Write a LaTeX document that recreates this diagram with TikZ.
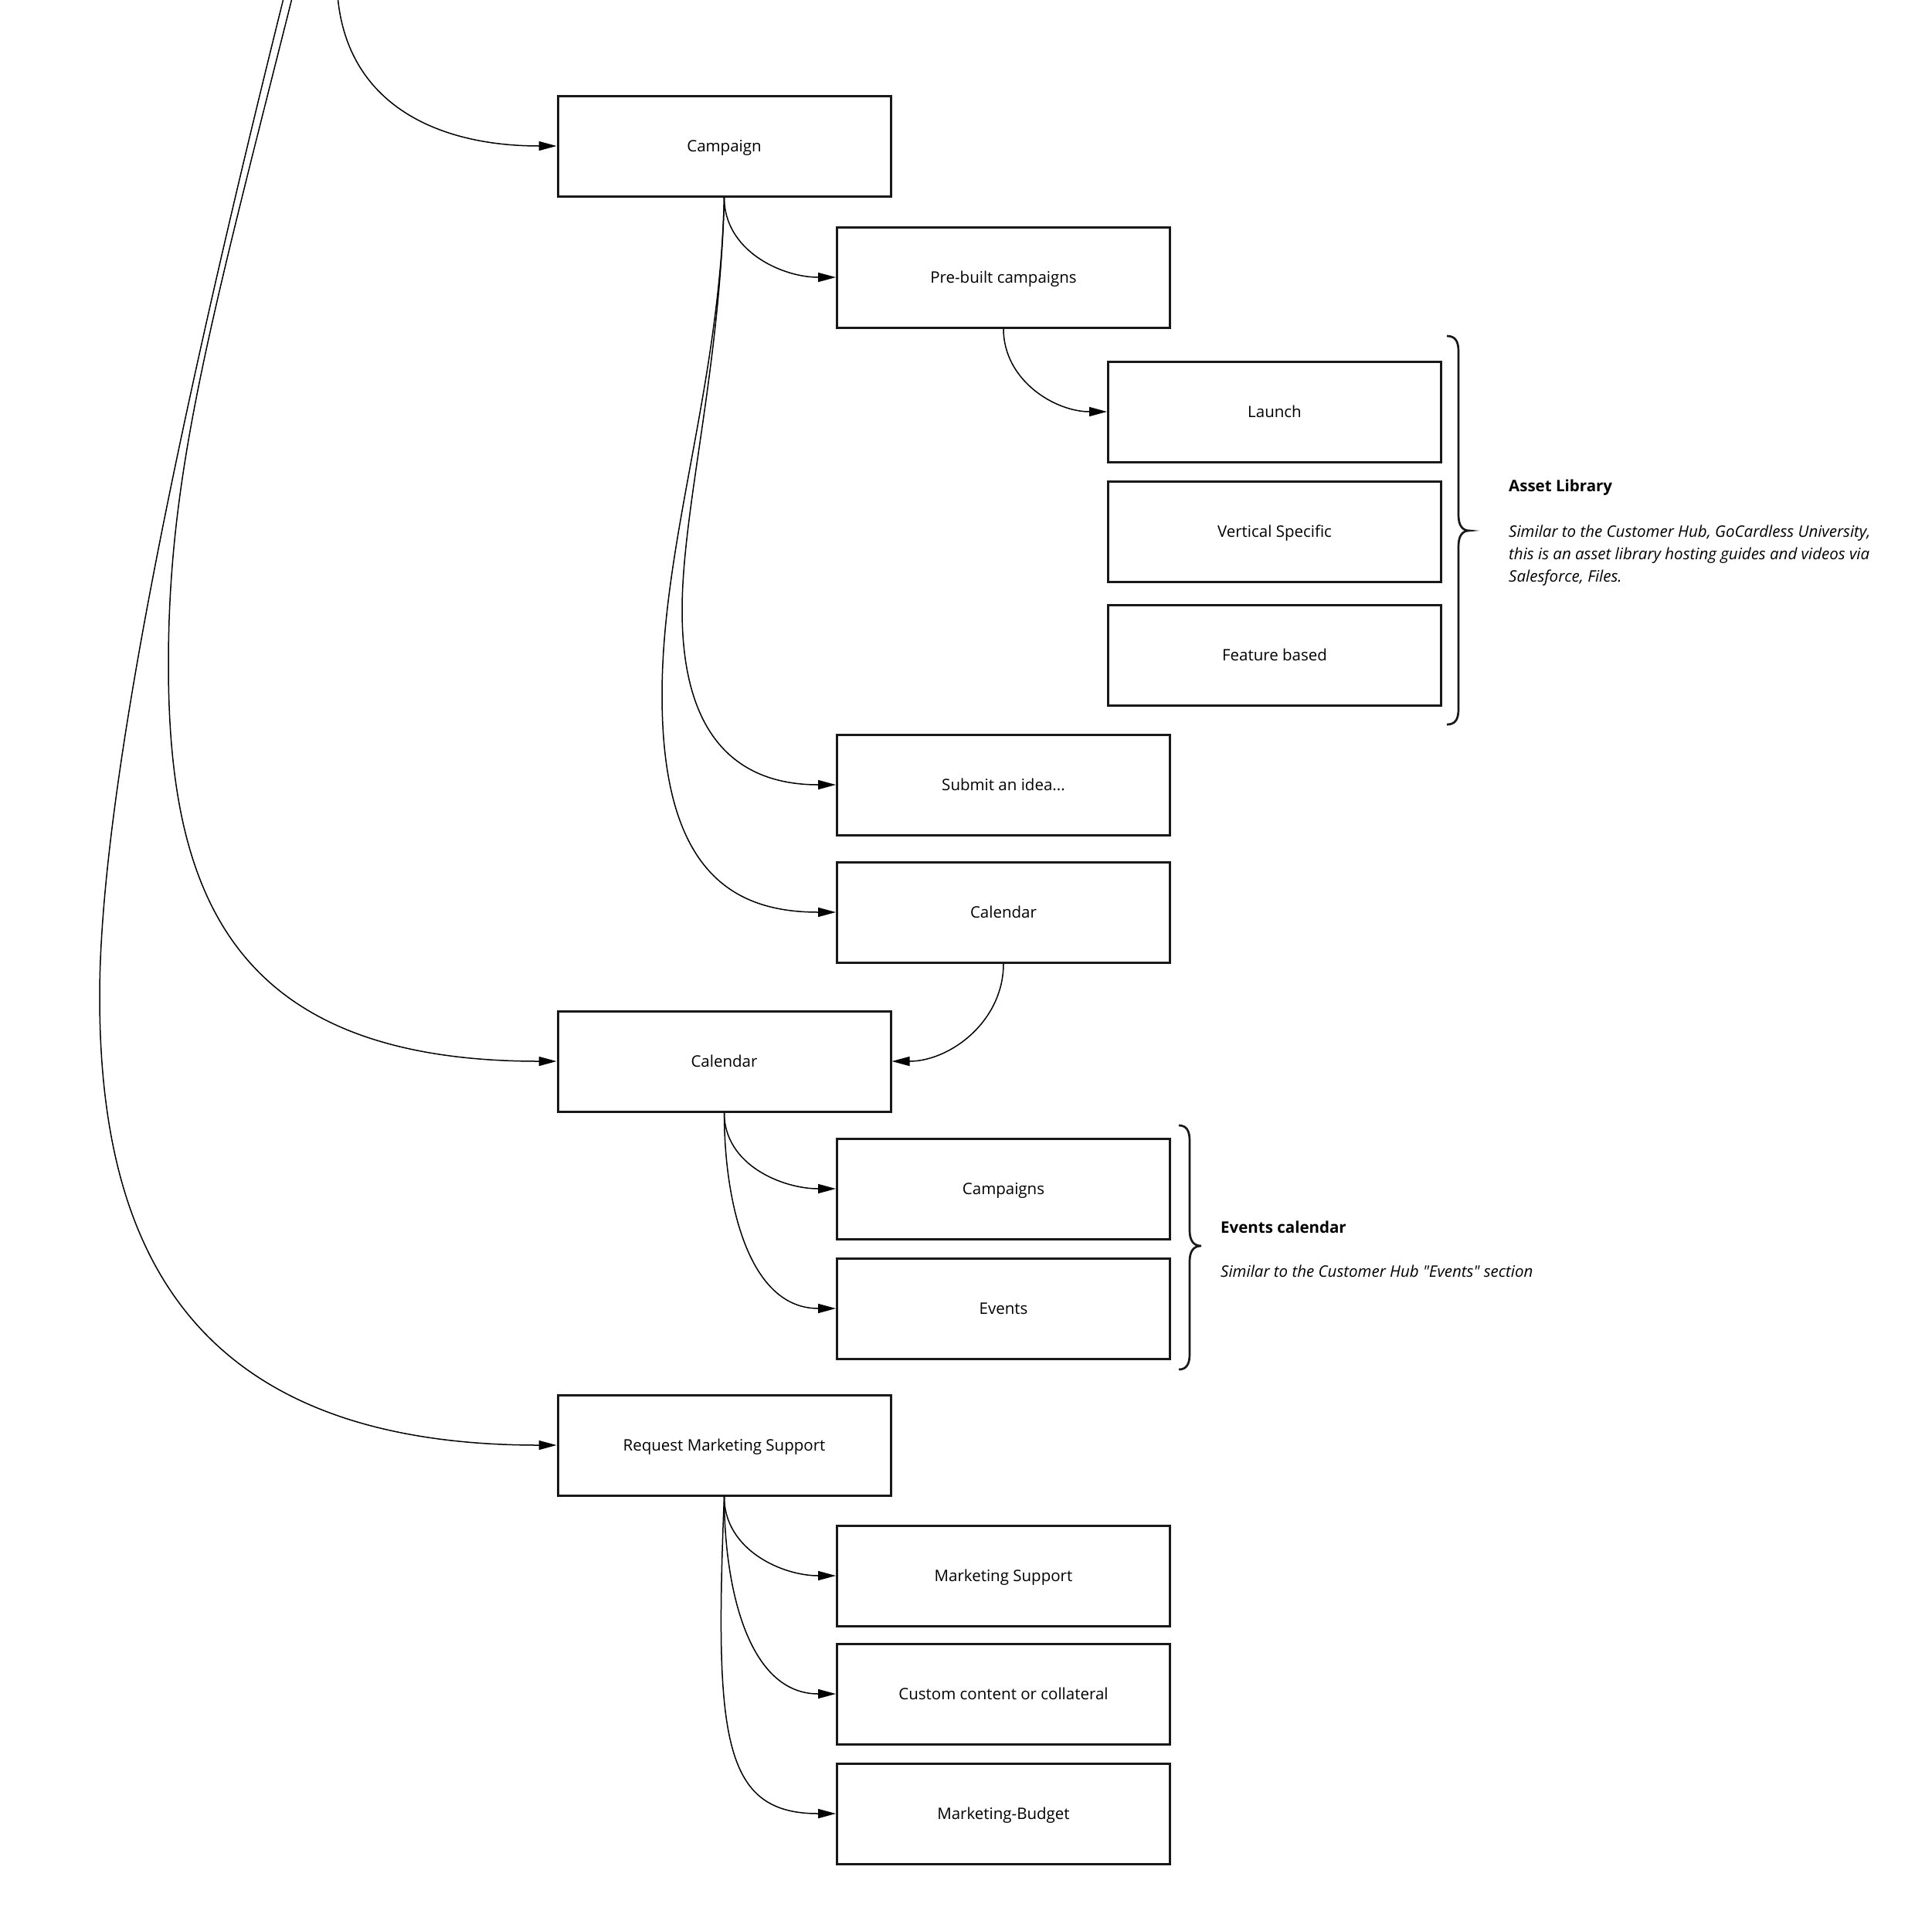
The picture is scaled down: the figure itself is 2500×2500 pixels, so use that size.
\documentclass[tikz,border=0pt]{standalone}
\usepackage{fontspec}
\setmainfont{Open Sans}[Ligatures=TeXOff]
\usetikzlibrary{arrows.meta}
\newcommand{\boxfont}{\fontsize{20.5}{25}\selectfont}
\tikzset{
  box/.style={draw=black!90, line width=3pt, minimum width=431pt, minimum height=130pt, inner sep=0pt, font=\boxfont, fill=white, text height=14.7pt, text depth=0pt},
  conn/.style={draw=black, line width=1.5pt, -{Triangle[length=23pt,width=12pt]}},
  brc/.style={draw=black!90, line width=2.7pt},
  note/.style={inner sep=0pt, anchor=west, align=left}
}
\begin{document}
\begin{tikzpicture}[x=1pt,y=-1pt]
\useasboundingbox (0,0) rectangle (2500,2500);
\fill[white] (0,0) rectangle (2500,2500);
\clip (0,0) rectangle (2500,2500);

% free ends coming from above the page
\coordinate (srcC) at (436,-30);
\coordinate (srcA) at (385,-30);
\coordinate (srcB) at (374,-30);

% boxes
\node[box] (camp) at (937.5,189) {Campaign};
\node[box] (pre)  at (1299,359) {Pre-built campaigns};
\node[box] (launch) at (1650,533) {Launch};
\node[box] (vert) at (1650,688) {Vertical Specific};
\node[box] (feat) at (1650,848) {Feature based};
\node[box] (sub)  at (1299,1016) {Submit an idea...};
\node[box] (cals) at (1299,1181) {Calendar};
\node[box] (calm) at (937.5,1374) {Calendar};
\node[box] (cmps) at (1299,1539) {Campaigns};
\node[box] (evt)  at (1299,1694) {Events};
\node[box] (rms)  at (937.5,1871) {Request Marketing Support};
\node[box] (ms)   at (1299,2040) {Marketing Support};
\node[box] (cc)   at (1299,2193) {Custom content or collateral};
\node[box] (mb)   at (1299,2348) {Marketing-Budget};

% connectors from above
\draw[conn] (srcC) .. controls (436,130) and (560,189) .. (camp.west);
\draw[conn] (srcA) .. controls (272,420) and (218,610) .. (218,860)
  .. controls (218,1160) and (302,1374) .. (calm.west);
\draw[conn] (srcB) .. controls (224,570) and (129,1040) .. (129,1290)
  .. controls (129,1610) and (242,1871) .. (rms.west);

% campaign children
\draw[conn] (camp.south) to[out=-90,in=180] (pre.west);
\draw[conn] (camp.south) .. controls (932,480) and (883,660) .. (883,790)
  .. controls (883,960) and (960,1016) .. (sub.west);
\draw[conn] (camp.south) .. controls (932,500) and (857,700) .. (857,900)
  .. controls (857,1130) and (950,1181) .. (cals.west);
\draw[conn] (pre.south) to[out=-90,in=180] (launch.west);
\draw[conn] (cals.south) to[out=-90,in=0] (calm.east);

% calendar children
\draw[conn] (calm.south) to[out=-90,in=180] (cmps.west);
\draw[conn] (calm.south) to[out=-90,in=180] (evt.west);

% request marketing support children
\draw[conn] (rms.south) to[out=-90,in=180] (ms.west);
\draw[conn] (rms.south) to[out=-90,in=180] (cc.west);
\draw[conn] (rms.south) .. controls (925,2250) and (935,2348) .. (mb.west);

% braces
\draw[brc] (1873,435) .. controls (1884,435) and (1888,442) .. (1888,455) -- (1888,667)
  .. controls (1888,680) and (1893,687) .. (1902,687)
  .. controls (1893,687) and (1888,694) .. (1888,707) -- (1888,918)
  .. controls (1888,931) and (1884,938) .. (1873,938);
\draw[brc] (1526,1457) .. controls (1536,1457) and (1540,1464) .. (1540,1477) -- (1540,1593)
  .. controls (1540,1606) and (1545,1613) .. (1555,1613)
  .. controls (1545,1613) and (1540,1620) .. (1540,1633) -- (1540,1753)
  .. controls (1540,1766) and (1536,1773) .. (1526,1773);

% notes
\node[note, font=\fontsize{20.5}{25}\selectfont\bfseries] (alh) at (1953,631) {Asset Library};
\node[note, font=\fontsize{20.5}{29}\selectfont\itshape] (alt) at (1953,719) {Similar to the Customer Hub, GoCardless University,\\this is an asset library hosting guides and videos via\\Salesforce, Files.};
\node[note, font=\fontsize{20.5}{25}\selectfont\bfseries] (ech) at (1580,1589) {Events calendar};
\node[note, font=\fontsize{20.5}{25}\selectfont\itshape] (ect) at (1580,1646) {Similar to the Customer Hub "Events" section};
\end{tikzpicture}
\end{document}
